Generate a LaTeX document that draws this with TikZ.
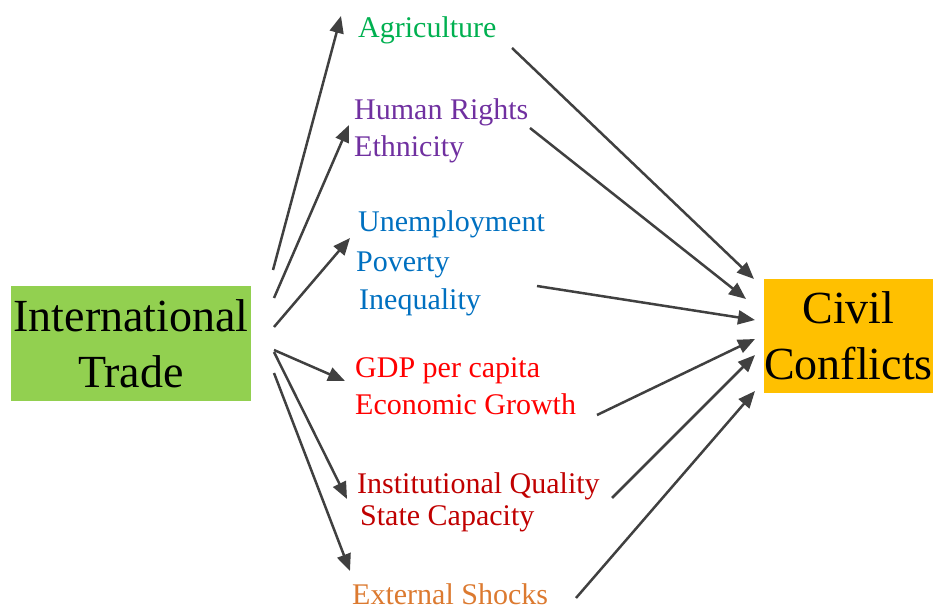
\documentclass[tikz,border=0pt]{standalone}
\usepackage{fontspec}
\setmainfont{Liberation Serif}
\usetikzlibrary{arrows.meta}
\definecolor{boxgreen}{HTML}{92D050}
\definecolor{boxorange}{HTML}{FFC000}
\definecolor{agri}{HTML}{00B050}
\definecolor{purp}{HTML}{7030A0}
\definecolor{blu}{HTML}{0070C0}
\definecolor{rd}{HTML}{FF0000}
\definecolor{drd}{HTML}{C00000}
\definecolor{orng}{HTML}{DC7A30}
\definecolor{arr}{HTML}{404040}
\tikzset{
  bigbox/.style={inner sep=0pt, align=center, font=\fontsize{46}{56}\selectfont, text=black},
  lbl/.style={anchor=base west, inner sep=0pt, font=\fontsize{30}{36}\selectfont},
  conn/.style={draw=arr, line width=2.5pt, -{Triangle[length=17pt,width=14pt]}}
}
\begin{document}
\begin{tikzpicture}[x=1pt,y=-1pt]
\useasboundingbox (0,0) rectangle (933,609);
% boxes
\node[bigbox, fill=boxgreen, minimum width=240pt, minimum height=115pt] (trade) at (131,343.5) {International\\Trade};
\node[bigbox, fill=boxorange, minimum width=169pt, minimum height=114pt] (civil) at (848.5,336) {Civil\\Conflicts};
% labels
\node[lbl, text=agri] (agri) at (358,38) {Agriculture};
\node[lbl, text=purp] (hr) at (354,120) {Human Rights};
\node[lbl, text=purp] (eth) at (354,157) {Ethnicity};
\node[lbl, text=blu] (unemp) at (358,232) {Unemployment};
\node[lbl, text=blu] (pov) at (356,272) {Poverty};
\node[lbl, text=blu] (ineq) at (359,309) {Inequality};
\node[lbl, text=rd] (gdp) at (355,377) {GDP per capita};
\node[lbl, text=rd] (growth) at (355,414) {Economic Growth};
\node[lbl, text=drd] (inst) at (357,493) {Institutional Quality};
\node[lbl, text=drd] (state) at (360,525) {State Capacity};
\node[lbl, text=orng] (shock) at (352,604) {External Shocks};
% connector endpoints
\coordinate (s1) at (273,270);
\coordinate (s2) at (274,298);
\coordinate (s3) at (274,327);
\coordinate (s4) at (274,350);
\coordinate (s5) at (274,352);
\coordinate (s6) at (274,373);
\coordinate (e1) at (341,16);
\coordinate (e2) at (349,125);
\coordinate (e3) at (350,238);
\coordinate (e4) at (345,381);
\coordinate (e5) at (347,499);
\coordinate (e6) at (350,571);
\coordinate (a1) at (512,48);
\coordinate (a2) at (530,128);
\coordinate (a3) at (537,286);
\coordinate (a4) at (597,415);
\coordinate (a5) at (612,498);
\coordinate (a6) at (576,598);
\coordinate (b1) at (754,279);
\coordinate (b2) at (746,299);
\coordinate (b3) at (755,320);
\coordinate (b4) at (755,339);
\coordinate (b5) at (755,355);
\coordinate (b6) at (755,391);
% connectors
\draw[conn] (s1) -- (e1);
\draw[conn] (s2) -- (e2);
\draw[conn] (s3) -- (e3);
\draw[conn] (s4) -- (e4);
\draw[conn] (s5) -- (e5);
\draw[conn] (s6) -- (e6);
\draw[conn] (a1) -- (b1);
\draw[conn] (a2) -- (b2);
\draw[conn] (a3) -- (b3);
\draw[conn] (a4) -- (b4);
\draw[conn] (a5) -- (b5);
\draw[conn] (a6) -- (b6);
\end{tikzpicture}
\end{document}
